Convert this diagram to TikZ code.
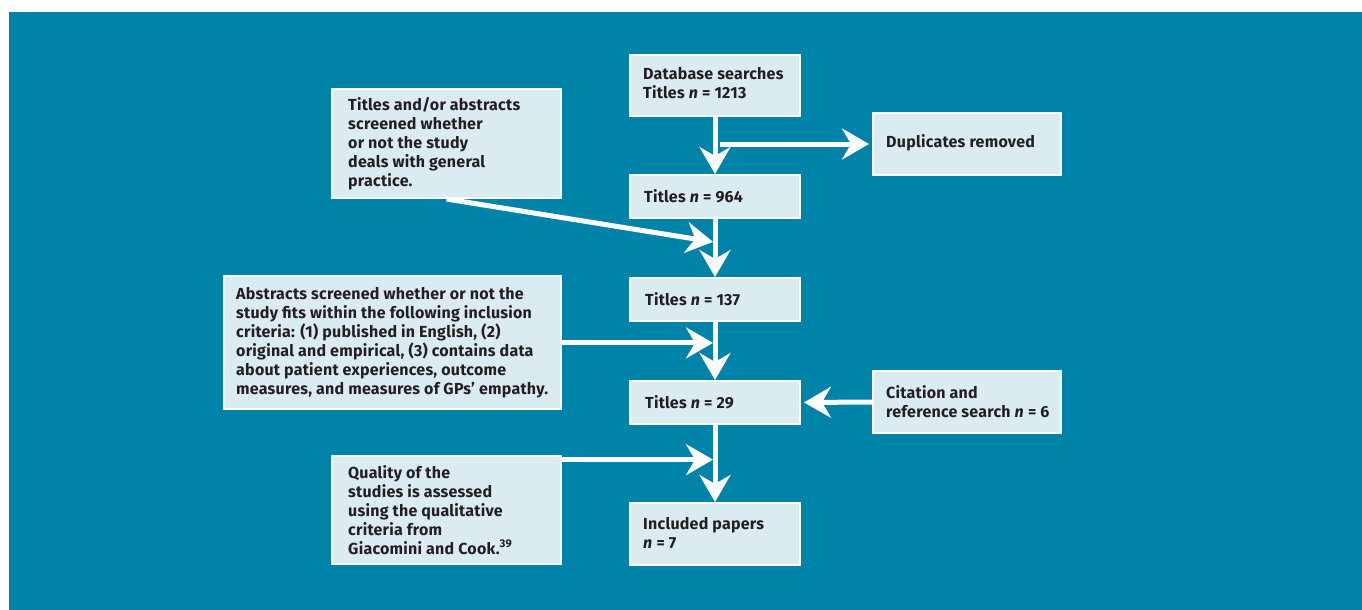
\documentclass[tikz,border=0pt]{standalone}
\usepackage{fontspec}
\setmainfont{Fira Sans}[LetterSpace=1.5]
\usetikzlibrary{arrows.meta,calc}
\definecolor{bgblue}{HTML}{0083A9}
\definecolor{boxfill}{HTML}{DAECF2}
\definecolor{txtcol}{HTML}{231F20}
\begin{document}
\begin{tikzpicture}[x=1pt,y=-1pt,
  box/.style={draw=white,line width=2pt,fill=boxfill,inner sep=0pt},
  txt/.style={anchor=west,inner sep=0pt,align=left,text=txtcol,font=\fontsize{16}{18.9}\selectfont\bfseries},
  arr/.style={draw=white,line width=5pt,-{Stealth[length=27pt,width=31pt,inset=9pt]}}]
\fill[white] (0,0) rectangle (1362,610);
\fill[bgblue] (9,12) rectangle (1362,610);
\useasboundingbox (0,0) rectangle (1362,610);
% boxes
\node[box,minimum width=170pt,minimum height=61pt] (db) at (715,85.5) {};
\node[box,minimum width=188pt,minimum height=62pt] (dup) at (967,144) {};
\node[box,minimum width=170pt,minimum height=43pt] (t964) at (715,196.5) {};
\node[box,minimum width=229pt,minimum height=109pt] (ta) at (446.5,143.5) {};
\node[box,minimum width=170pt,minimum height=43pt] (t137) at (715,299.5) {};
\node[box,minimum width=337pt,minimum height=133pt] (ab) at (392.5,342.5) {};
\node[box,minimum width=170pt,minimum height=43pt] (t29) at (715,402.5) {};
\node[box,minimum width=188pt,minimum height=62pt] (cit) at (967,402) {};
\node[box,minimum width=229pt,minimum height=108pt] (q) at (446.5,510) {};
\node[box,minimum width=170pt,minimum height=62pt] (inc) at (715,534) {};
% texts
\node[txt] (dbt) at ([xshift=14pt,yshift=2pt]db.west) {Database searches\\Titles \textit{n} = 1213};
\node[txt] (dupt) at ([xshift=14pt,yshift=1pt]dup.west) {Duplicates removed};
\node[txt] (t964t) at ([xshift=15pt]t964.west) {Titles \textit{n} = 964};
\node[txt] (tat) at ([xshift=17pt]ta.west) {Titles and/or abstracts\\screened whether\\or not the study\\deals with general\\practice.};
\node[txt] (t137t) at ([xshift=16pt]t137.west) {Titles \textit{n} = 137};
\node[txt] (abt) at ([xshift=13pt]ab.west) {Abstracts screened whether or not the\\study fits within the following inclusion\\criteria: (1) published in English, (2)\\original and empirical, (3) contains data\\about patient experiences, outcome\\measures, and measures of GPs’ empathy.};
\node[txt] (t29t) at ([xshift=16pt]t29.west) {Titles \textit{n} = 29};
\node[txt] (citt) at ([xshift=14pt]cit.west) {Citation and\\reference search \textit{n} = 6};
\node[txt] (qt) at ([xshift=17pt]q.west) {Quality of the\\studies is assessed\\using the qualitative\\criteria from\\Giacomini and Cook.\textsuperscript{39}};
\node[txt] (inct) at ([xshift=14pt,yshift=1pt]inc.west) {Included papers\\\textit{n} = 7};
% connectors
\coordinate (m1) at ($(t964.south)!0.4!(t137.north)$);
\coordinate (m2) at ($(t137.south)!0.36!(t29.north)$);
\coordinate (m3) at ($(t29.south)!0.45!(inc.north)$);
\draw[arr] (db.south) -- (t964.north);
\draw[arr,shorten >=3pt] ([xshift=5pt]db.south |- dup.west) -- (dup.west);
\draw[arr] (t964.south) -- (t137.north);
\draw[arr,shorten >=2pt] (ta.south) -- (m1);
\draw[arr] (t137.south) -- (t29.north);
\draw[arr,shorten >=2pt] (ab.east |- m2) -- (m2);
\draw[arr,shorten >=3pt] (cit.west) -- (t29.east);
\draw[arr] (t29.south) -- (inc.north);
\draw[arr,shorten >=2pt] (q.east |- m3) -- (m3);
\end{tikzpicture}
\end{document}
